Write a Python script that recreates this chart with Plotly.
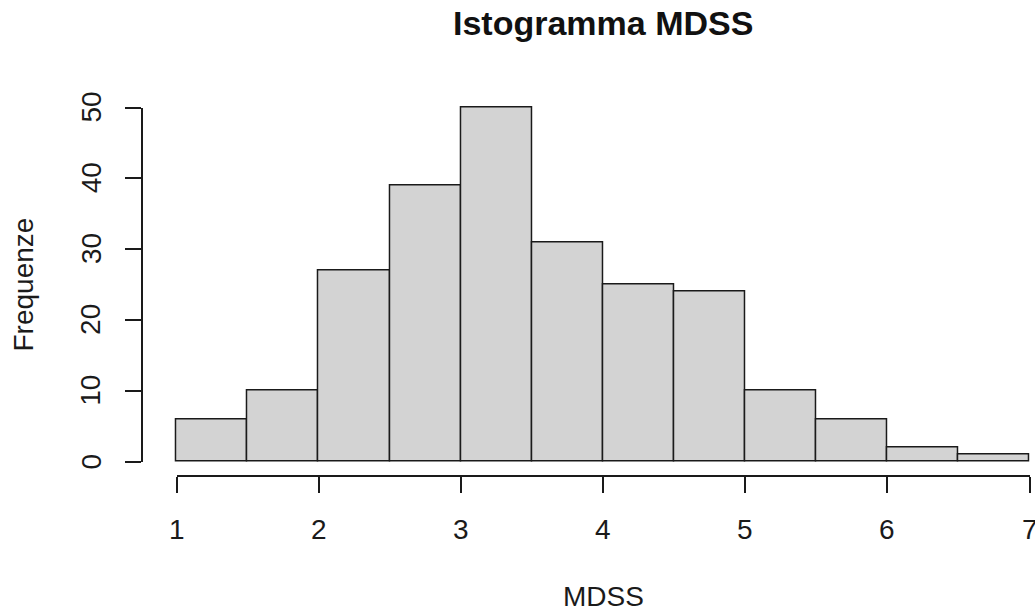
import plotly.graph_objects as go

# Histogram of MDSS scores (bin edges every 0.5 from 1 to 7)
bin_left = [1.0, 1.5, 2.0, 2.5, 3.0, 3.5, 4.0, 4.5, 5.0, 5.5, 6.0, 6.5]
counts = [6, 10, 27, 39, 50, 31, 25, 24, 10, 6, 2, 1]
bin_width = 0.5

x_ticks = [1, 2, 3, 4, 5, 6, 7]
y_ticks = [0, 10, 20, 30, 40, 50]

title_text = "Istogramma MDSS"
x_title = "MDSS"
y_title = "Frequenze"

W, H = 1035, 611
FONT = "Liberation Sans, Arial, sans-serif"

# pixel layout of the plotting region
px_x0, px_x1 = 176.5, 1029.5     # x = 1 .. 7
px_y0, px_y1 = 461.5, 107.5      # y = 0 .. 50
x_axis_px = 476.0                # detached x axis line
y_axis_px = 141.7                # detached y axis line

xmin, xmax = x_ticks[0], x_ticks[-1]
ymin, ymax = y_ticks[0], y_ticks[-1]
sx = (px_x1 - px_x0) / (xmax - xmin)
sy = (px_y0 - px_y1) / (ymax - ymin)


def fx(px):
    return px / W


def fy(py):
    return 1 - py / H


# bar axes are padded a little so outlines at the edges are not clipped
pad_x, pad_y = 0.03, 1.0
bx0, bx1 = xmin - pad_x, xmax + pad_x
by0, by1 = ymin - pad_y, ymax + pad_y

centers = [b + bin_width / 2 for b in bin_left]

fig = go.Figure()
fig.add_trace(go.Bar(
    x=centers, y=counts, width=bin_width,
    marker=dict(color="#d3d3d3", line=dict(color="#1a1a1a", width=1.5)),
    xaxis="x", yaxis="y", showlegend=False, hoverinfo="x+y",
))
# empty trace so the detached axes subplot is created
fig.add_trace(go.Scatter(x=[None], y=[None], xaxis="x2", yaxis="y2",
                         showlegend=False, hoverinfo="skip"))

axis_common = dict(showgrid=False, zeroline=False, fixedrange=True)
line_style = dict(showline=True, linecolor="#1a1a1a", linewidth=1.5,
                  ticks="outside", tickcolor="#1a1a1a", tickwidth=1.5,
                  ticklen=16, showticklabels=False)

fig.update_layout(
    width=W, height=H, autosize=False,
    margin=dict(l=0, r=0, t=0, b=0),
    paper_bgcolor="white", plot_bgcolor="rgba(0,0,0,0)",
    bargap=0,
    xaxis=dict(range=[bx0, bx1],
               domain=[fx(px_x0 - pad_x * sx), fx(px_x1 + pad_x * sx)],
               visible=False, anchor="y", **axis_common),
    yaxis=dict(range=[by0, by1],
               domain=[fy(px_y0 + pad_y * sy), fy(px_y1 - pad_y * sy)],
               visible=False, anchor="x", **axis_common),
    xaxis2=dict(range=[xmin, xmax], domain=[fx(px_x0), fx(px_x1)],
                anchor="free", position=fy(x_axis_px),
                tickmode="array", tickvals=x_ticks, **line_style, **axis_common),
    yaxis2=dict(range=[ymin, ymax], domain=[fy(px_y0), fy(px_y1)],
                anchor="free", position=fx(y_axis_px),
                tickmode="array", tickvals=y_ticks, **line_style, **axis_common),
)

ann = []
tick_font = dict(family=FONT, size=28, color="#1a1a1a")
for v in x_ticks:
    ann.append(dict(x=v, xref="x2", y=fy(529), yref="paper", text=str(v),
                    showarrow=False, xanchor="center", yanchor="middle",
                    font=tick_font))
for v in y_ticks:
    ann.append(dict(x=fx(91), xref="paper", y=v, yref="y2", text=str(v),
                    showarrow=False, xanchor="center", yanchor="middle",
                    textangle=-90, font=tick_font))
ann.append(dict(x=(xmin + xmax) / 2, xref="x2", y=fy(596), yref="paper",
                text=x_title, showarrow=False, xanchor="center",
                yanchor="middle", font=tick_font))
ann.append(dict(x=fx(23), xref="paper", y=(ymin + ymax) / 2, yref="y2",
                text=y_title, showarrow=False, xanchor="center",
                yanchor="middle", textangle=-90, font=tick_font))
ann.append(dict(x=fx(603), xref="paper", y=fy(23), yref="paper",
                text=title_text, showarrow=False, xanchor="center",
                yanchor="middle",
                font=dict(family=FONT, size=34, color="#111111", weight="bold")))
fig.update_layout(annotations=ann)

fig.write_html("out.html")
